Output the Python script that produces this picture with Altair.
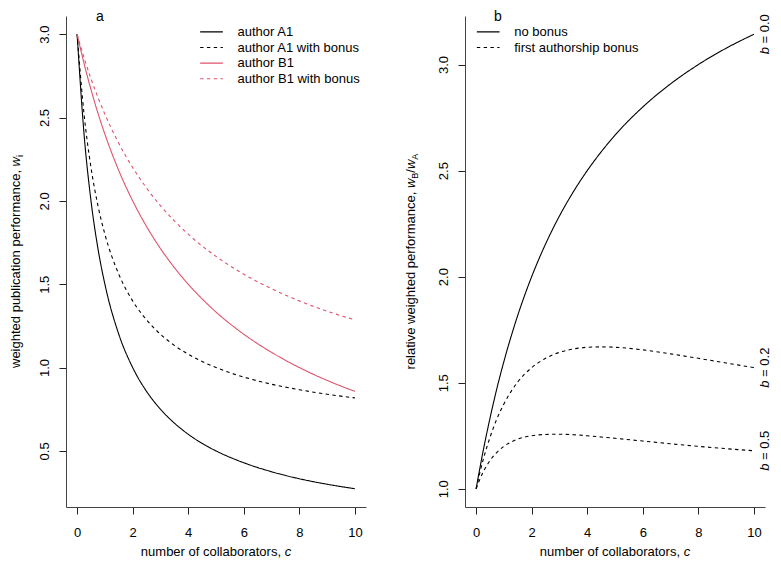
import altair as alt
import pandas as pd

FONT = "Liberation Sans"

# ---- data ----
c_vals = [0, 0.25, 0.5, 0.75, 1, 1.5, 2, 2.5, 3, 3.5, 4, 4.5, 5, 6, 7, 8, 9, 10]

a1       = [3.000, 2.400, 2.000, 1.714, 1.500, 1.200, 1.000, 0.857, 0.750, 0.667, 0.600, 0.545, 0.500, 0.429, 0.375, 0.333, 0.300, 0.273]
a1_bonus = [3.000, 2.520, 2.200, 1.971, 1.800, 1.560, 1.400, 1.286, 1.200, 1.133, 1.080, 1.036, 1.000, 0.943, 0.900, 0.867, 0.840, 0.818]
b1       = [3.000, 2.824, 2.667, 2.526, 2.400, 2.182, 2.000, 1.846, 1.714, 1.600, 1.500, 1.412, 1.333, 1.200, 1.091, 1.000, 0.923, 0.857]
b1_bonus = [3.000, 2.859, 2.733, 2.621, 2.520, 2.345, 2.200, 2.077, 1.971, 1.880, 1.800, 1.729, 1.667, 1.560, 1.473, 1.400, 1.338, 1.286]

ratio_b00 = [1.000, 1.176, 1.333, 1.474, 1.600, 1.818, 2.000, 2.154, 2.286, 2.400, 2.500, 2.588, 2.667, 2.800, 2.909, 3.000, 3.077, 3.143]
ratio_b02 = [1.000, 1.135, 1.242, 1.330, 1.400, 1.504, 1.571, 1.615, 1.643, 1.659, 1.667, 1.669, 1.667, 1.655, 1.636, 1.615, 1.593, 1.571]
ratio_b05 = [1.000, 1.078, 1.133, 1.172, 1.200, 1.234, 1.250, 1.256, 1.257, 1.255, 1.250, 1.244, 1.238, 1.225, 1.212, 1.200, 1.189, 1.179]

left_names = ["author A1", "author A1 with bonus", "author B1", "author B1 with bonus"]
left_colors = ["#000000", "#000000", "#DF536B", "#DF536B"]
right_kinds = ["no bonus", "first authorship bonus"]
b_labels = ["0.0", "0.2", "0.5"]
x_ticks = [0, 2, 4, 6, 8, 10]
y_ticks_left = [0.5, 1.0, 1.5, 2.0, 2.5, 3.0]
y_ticks_right = [1.0, 1.5, 2.0, 2.5, 3.0]

# ---- tables ----
rows = []
for name, vals in zip(left_names, [a1, a1_bonus, b1, b1_bonus]):
    for c, v in zip(c_vals, vals):
        rows.append({"c": c, "w": v, "series": name})
df_left = pd.DataFrame(rows)

rows = []
for lab, kind, vals in zip(b_labels, ["no bonus", "first authorship bonus", "first authorship bonus"],
                           [ratio_b00, ratio_b02, ratio_b05]):
    for c, v in zip(c_vals, vals):
        rows.append({"c": c, "r": v, "curve": lab, "kind": kind})
df_right = pd.DataFrame(rows)

df_lab = pd.DataFrame({"b": b_labels, "r": [ratio_b00[-1], ratio_b02[-1], ratio_b05[-1]]})
df_lab["rest"] = "=\u00a0" + df_lab["b"]

W, H = 300, 491
DASH = [3.4, 3.4]
LINE_SYMBOL = "M-2,0L2,0"

xs = alt.Scale(domain=[-0.4, 10.4], nice=False, zero=False)
ys_left = alt.Scale(domain=[0.1635, 3.109], nice=False, zero=False)
ys_right = alt.Scale(domain=[0.914, 3.229], nice=False, zero=False)

common_axis = dict(grid=False, tickSize=7, labelFontSize=13, labelFont=FONT, labelColor="black",
                   domainColor="#444444", tickColor="#222222", domainWidth=1, tickWidth=1,
                   labelFlush=False, title=None)
axis_x = alt.Axis(values=x_ticks, format="d", labelPadding=12, labelBaseline="top", **common_axis)


def axis_y(vals):
    return alt.Axis(values=vals, format=".1f", labelPadding=11, labelAngle=270,
                    labelAlign="center", labelBaseline="alphabetic", **common_axis)


def txt(s, x, y, dx=0, dy=0, angle=0, align="left", baseline="alphabetic", italic=False, size=13):
    kw = dict(align=align, baseline=baseline, fontSize=size, font=FONT, color="black", dx=dx, dy=dy)
    if angle:
        kw["angle"] = angle
    if italic:
        kw["fontStyle"] = "italic"
    return alt.Chart(pd.DataFrame({"t": [s]})).mark_text(**kw).encode(
        text="t:N", x=alt.value(x), y=alt.value(y))


def x_title():
    return [txt("number of collaborators,", 74.85, 540),
            txt("c", 218.65, 540, italic=True)]


def legend(x):
    return alt.Legend(title=None, orient="none", legendX=x, legendY=9.4, symbolType=LINE_SYMBOL,
                      symbolSize=129, symbolStrokeWidth=1.1, symbolStrokeColor="black",
                      labelFontSize=13, labelFont=FONT, labelColor="black", labelOffset=19.5,
                      rowPadding=1.6, padding=0, labelLimit=400)


# ---- left panel ----
leg_left = legend(139)
lines_left = alt.Chart(df_left).mark_line(strokeWidth=1.1, interpolate="monotone").encode(
    x=alt.X("c:Q", scale=xs, axis=axis_x),
    y=alt.Y("w:Q", scale=ys_left, axis=axis_y(y_ticks_left)),
    color=alt.Color("series:N", scale=alt.Scale(domain=left_names, range=left_colors), legend=leg_left),
    strokeDash=alt.StrokeDash("series:N", scale=alt.Scale(domain=left_names,
                                                          range=[[1, 0], DASH, [1, 0], DASH]),
                              legend=leg_left),
)

left_texts = [
    txt("a", 34, 5, align="center", size=14),
    txt("weighted publication performance,", -46, H / 2, dx=-106.5, angle=270),
    txt("w", -46, H / 2, dx=95.1, angle=270, italic=True),
    txt("i", -46, H / 2, dx=104.5, dy=3, angle=270, size=9.1),
] + x_title()

left = alt.layer(lines_left, *left_texts).properties(width=W, height=H)

# ---- right panel ----
leg_right = legend(16.7)
ay_right = axis_y(y_ticks_right)

lines_right = alt.Chart(df_right).mark_line(strokeWidth=1.1, interpolate="monotone", color="black").encode(
    x=alt.X("c:Q", scale=xs, axis=axis_x),
    y=alt.Y("r:Q", scale=ys_right, axis=ay_right),
    strokeDash=alt.StrokeDash("kind:N", scale=alt.Scale(domain=right_kinds, range=[[1, 0], DASH]),
                              legend=leg_right),
    detail="curve:N",
)

# end labels "b = ..." : italic b at the lower end, "= value" right-aligned at the upper end
LAB_X = W - 6
lab_b = alt.Chart(df_lab).mark_text(angle=270, align="left", baseline="top", dx=-20.05,
                                    fontStyle="italic", fontSize=13, font=FONT, color="black").encode(
    x=alt.value(LAB_X), y=alt.Y("r:Q", scale=ys_right, axis=ay_right), text=alt.value("b"))
lab_rest = alt.Chart(df_lab).mark_text(angle=270, align="right", baseline="top", dx=20.05,
                                       fontSize=13, font=FONT, color="black").encode(
    x=alt.value(LAB_X), y=alt.Y("r:Q", scale=ys_right, axis=ay_right), text="rest:N")

right_texts = [
    txt("b", 33, 5, align="center", size=14),
    txt("relative weighted performance,", -50, H / 2, dx=-107.95, angle=270),
    txt("w", -50, H / 2, dx=73.4, angle=270, italic=True),
    txt("B", -50, H / 2, dx=82.79, dy=3, angle=270, size=9.1),
    txt("/", -50, H / 2, dx=88.86, angle=270),
    txt("w", -50, H / 2, dx=92.47, angle=270, italic=True),
    txt("A", -50, H / 2, dx=101.86, dy=3, angle=270, size=9.1),
] + x_title()

right = alt.layer(lines_right, lab_b, lab_rest, *right_texts).properties(width=W, height=H)

chart = alt.hconcat(left, right, spacing=39).resolve_scale(
    x="independent", y="independent", color="independent", strokeDash="independent"
).resolve_legend(color="independent", strokeDash="independent").configure_view(
    stroke=None
).properties(padding={"left": 2, "top": 2, "right": 0, "bottom": 0})

chart.save("out.html", embed_options={"renderer": "svg", "actions": False})
